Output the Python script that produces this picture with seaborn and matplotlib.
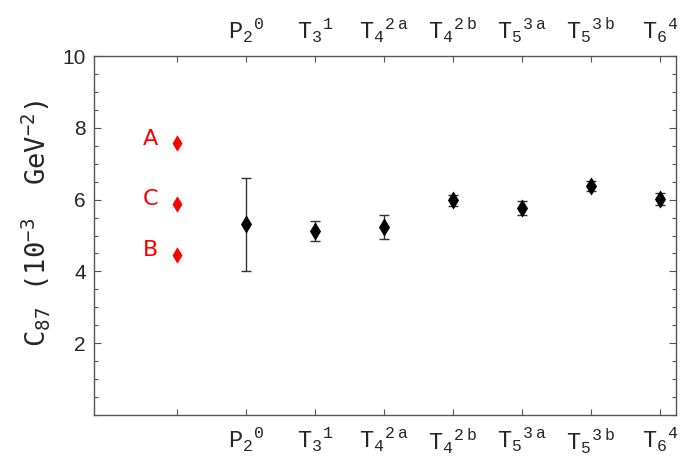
import matplotlib
matplotlib.use("Agg")
import matplotlib.pyplot as plt
import seaborn as sns
import pandas as pd
from matplotlib.ticker import MultipleLocator

# ---- data ----
categories = ["P2^0", "T3^1", "T4^2a", "T4^2b", "T5^3a", "T5^3b", "T6^4"]
tick_labels = ["",
               r"$\mathtt{P}_{\mathtt{2}}{}^{\mathtt{0}}$",
               r"$\mathtt{T}_{\mathtt{3}}{}^{\mathtt{1}}$",
               r"$\mathtt{T}_{\mathtt{4}}{}^{\mathtt{2\ a}}$",
               r"$\mathtt{T}_{\mathtt{4}}{}^{\mathtt{2\ b}}$",
               r"$\mathtt{T}_{\mathtt{5}}{}^{\mathtt{3\ a}}$",
               r"$\mathtt{T}_{\mathtt{5}}{}^{\mathtt{3\ b}}$",
               r"$\mathtt{T}_{\mathtt{6}}{}^{\mathtt{4}}$"]
values = [5.31, 5.12, 5.23, 5.98, 5.76, 6.38, 6.02]
errors = [1.30, 0.27, 0.33, 0.15, 0.20, 0.14, 0.16]
ref_names = ["A", "C", "B"]
ref_values = [7.57, 5.89, 4.47]
y_ticks = [2, 4, 6, 8, 10]

sns.set_theme(style="white")
plt.rcParams["mathtext.fontset"] = "custom"
plt.rcParams["mathtext.rm"] = "Liberation Mono"
plt.rcParams["mathtext.it"] = "Liberation Mono"
plt.rcParams["mathtext.tt"] = "Liberation Mono"
plt.rcParams["mathtext.sf"] = "DejaVu Sans Mono"
plt.rcParams["font.family"] = ["DejaVu Sans"]

df = pd.DataFrame({"pos": range(1, len(categories) + 1), "name": categories,
                   "value": values, "err": errors})
ref = pd.DataFrame({"pos": [0] * len(ref_names), "name": ref_names, "value": ref_values})

fig = plt.figure(figsize=(6.92, 4.58), dpi=100)
ax = fig.add_axes([94 / 692, 1 - 415 / 458, (676 - 94) / 692, (415 - 56) / 458])

ax.errorbar(df["pos"], df["value"], yerr=df["err"], fmt="none", ecolor="#333333",
            elinewidth=1.0, capsize=3.5, capthick=1.0, zorder=2)
sns.scatterplot(data=df, x="pos", y="value", marker="d", s=75, color="black",
                edgecolor="black", linewidth=0.5, ax=ax, zorder=3, legend=False)
sns.scatterplot(data=ref, x="pos", y="value", marker="d", s=60, color="red",
                edgecolor="red", linewidth=0.5, ax=ax, zorder=3, legend=False)
for _, r in ref.iterrows():
    ax.annotate(r["name"], (r["pos"], r["value"]), xytext=(-19, 3),
                textcoords="offset points", ha="center", va="center",
                color="red", fontsize=16, family="DejaVu Sans")

ax.set_xlim(-1.2, 7.23)
ax.set_ylim(0, 10)
ax.set_xticks(range(len(tick_labels)))
ax.set_xticklabels(tick_labels, fontsize=17)
ax.set_yticks(y_ticks)
ax.set_yticklabels([str(v) for v in y_ticks], fontsize=15, family="Liberation Sans")
ax.yaxis.set_minor_locator(MultipleLocator(0.5))
ax.tick_params(axis="x", which="both", direction="in", top=True, bottom=True,
               labeltop=True, labelbottom=True, length=4, width=0.8, color="#555555", pad=8)
ax.tick_params(axis="y", which="major", direction="in", left=True, right=True,
               labelright=False, length=5, width=0.8, color="#555555", pad=6)
ax.tick_params(axis="y", which="minor", direction="in", left=True, right=True,
               length=3, width=0.8, color="#555555")
for s in ax.spines.values():
    s.set_color("#555555")
    s.set_linewidth(1.0)

ax.set_xlabel("")
ax.set_ylabel(r"C$_{\mathsf{87}}$ (10$^{\mathsf{-3}}$  GeV$^{\mathsf{-2}}$)",
              fontsize=19.5, family="DejaVu Sans Mono")
ax.yaxis.set_label_coords(-0.073, 0.535)

fig.savefig("out.png", dpi=100)
